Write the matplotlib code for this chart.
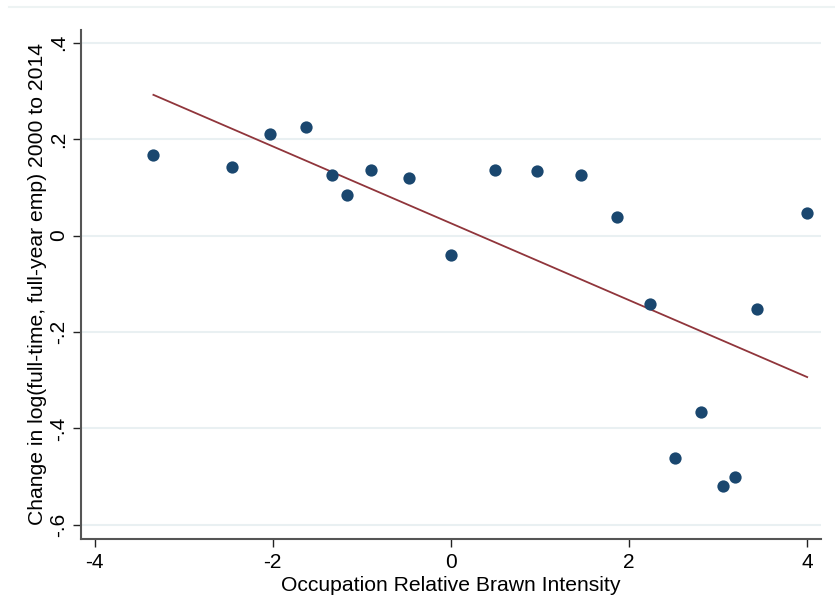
import numpy as np
import matplotlib
matplotlib.use("Agg")
import matplotlib.pyplot as plt
from matplotlib.lines import Line2D

plt.rcParams['font.family'] = ['Liberation Sans', 'DejaVu Sans']
plt.rcParams['axes.unicode_minus'] = False

# binned means: relative brawn intensity vs. employment change
brawn = [-3.34, -2.46, -2.03, -1.63, -1.34, -1.17, -0.90, -0.47, 0.00, 0.50,
         0.97, 1.46, 1.86, 2.23, 2.52, 2.81, 3.05, 3.19, 3.44, 4.00]
emp_change = [0.166, 0.143, 0.210, 0.225, 0.125, 0.085, 0.135, 0.119, -0.041, 0.136,
              0.134, 0.125, 0.038, -0.142, -0.461, -0.366, -0.519, -0.500, -0.153, 0.046]

# linear fit over the underlying data
fit_intercept = 0.0254
fit_slope = -0.0797

x_ticks = [-4, -2, 0, 2, 4]
y_ticks = [-0.6, -0.4, -0.2, 0.0, 0.2, 0.4]
y_tick_labels = ['-.6', '-.4', '-.2', '0', '.2', '.4']

navy = '#1a476f'
maroon = '#90353b'
grid_col = '#e9f0f2'

fig = plt.figure(figsize=(8.35, 6.06), dpi=100)
ax = fig.add_axes([0.097, 0.1106, 0.886, 0.8399])

ax.set_yticks(y_ticks)
ax.set_yticklabels(y_tick_labels, rotation=90, va='center')
ax.set_xticks(x_ticks)
ax.grid(axis='y', color=grid_col, linewidth=1.5)
ax.set_axisbelow(True)

ax.scatter(brawn, emp_change, s=78, color=navy, zorder=3, linewidths=0)

xs = np.array([min(brawn), max(brawn)])
ax.plot(xs, fit_intercept + fit_slope * xs, color=maroon, linewidth=1.3, zorder=2)

ax.set_xlim(-4.153, 4.153)
ax.set_ylim(-0.629, 0.426)

for side in ['top', 'right']:
    ax.spines[side].set_visible(False)
for side in ['left', 'bottom']:
    ax.spines[side].set_color('#555555')
    ax.spines[side].set_linewidth(1.5)

ax.tick_params(axis='both', labelsize=15, length=6, width=1, color='#222222', direction='out')
ax.tick_params(axis='y', pad=3)
ax.tick_params(axis='x', pad=4)
ax.set_xlabel('Occupation Relative Brawn Intensity', fontsize=15.2, labelpad=3)
ax.set_ylabel('Change in log(full-time, full-year emp) 2000 to 2014', fontsize=15.2, labelpad=2)

# faint rule along the top of the graph region
fig.add_artist(Line2D([9 / 835, 1.0], [1 - 7 / 606, 1 - 7 / 606], color='#edf3f3', linewidth=1.5))

fig.savefig('out.png', dpi=100, facecolor='white')
